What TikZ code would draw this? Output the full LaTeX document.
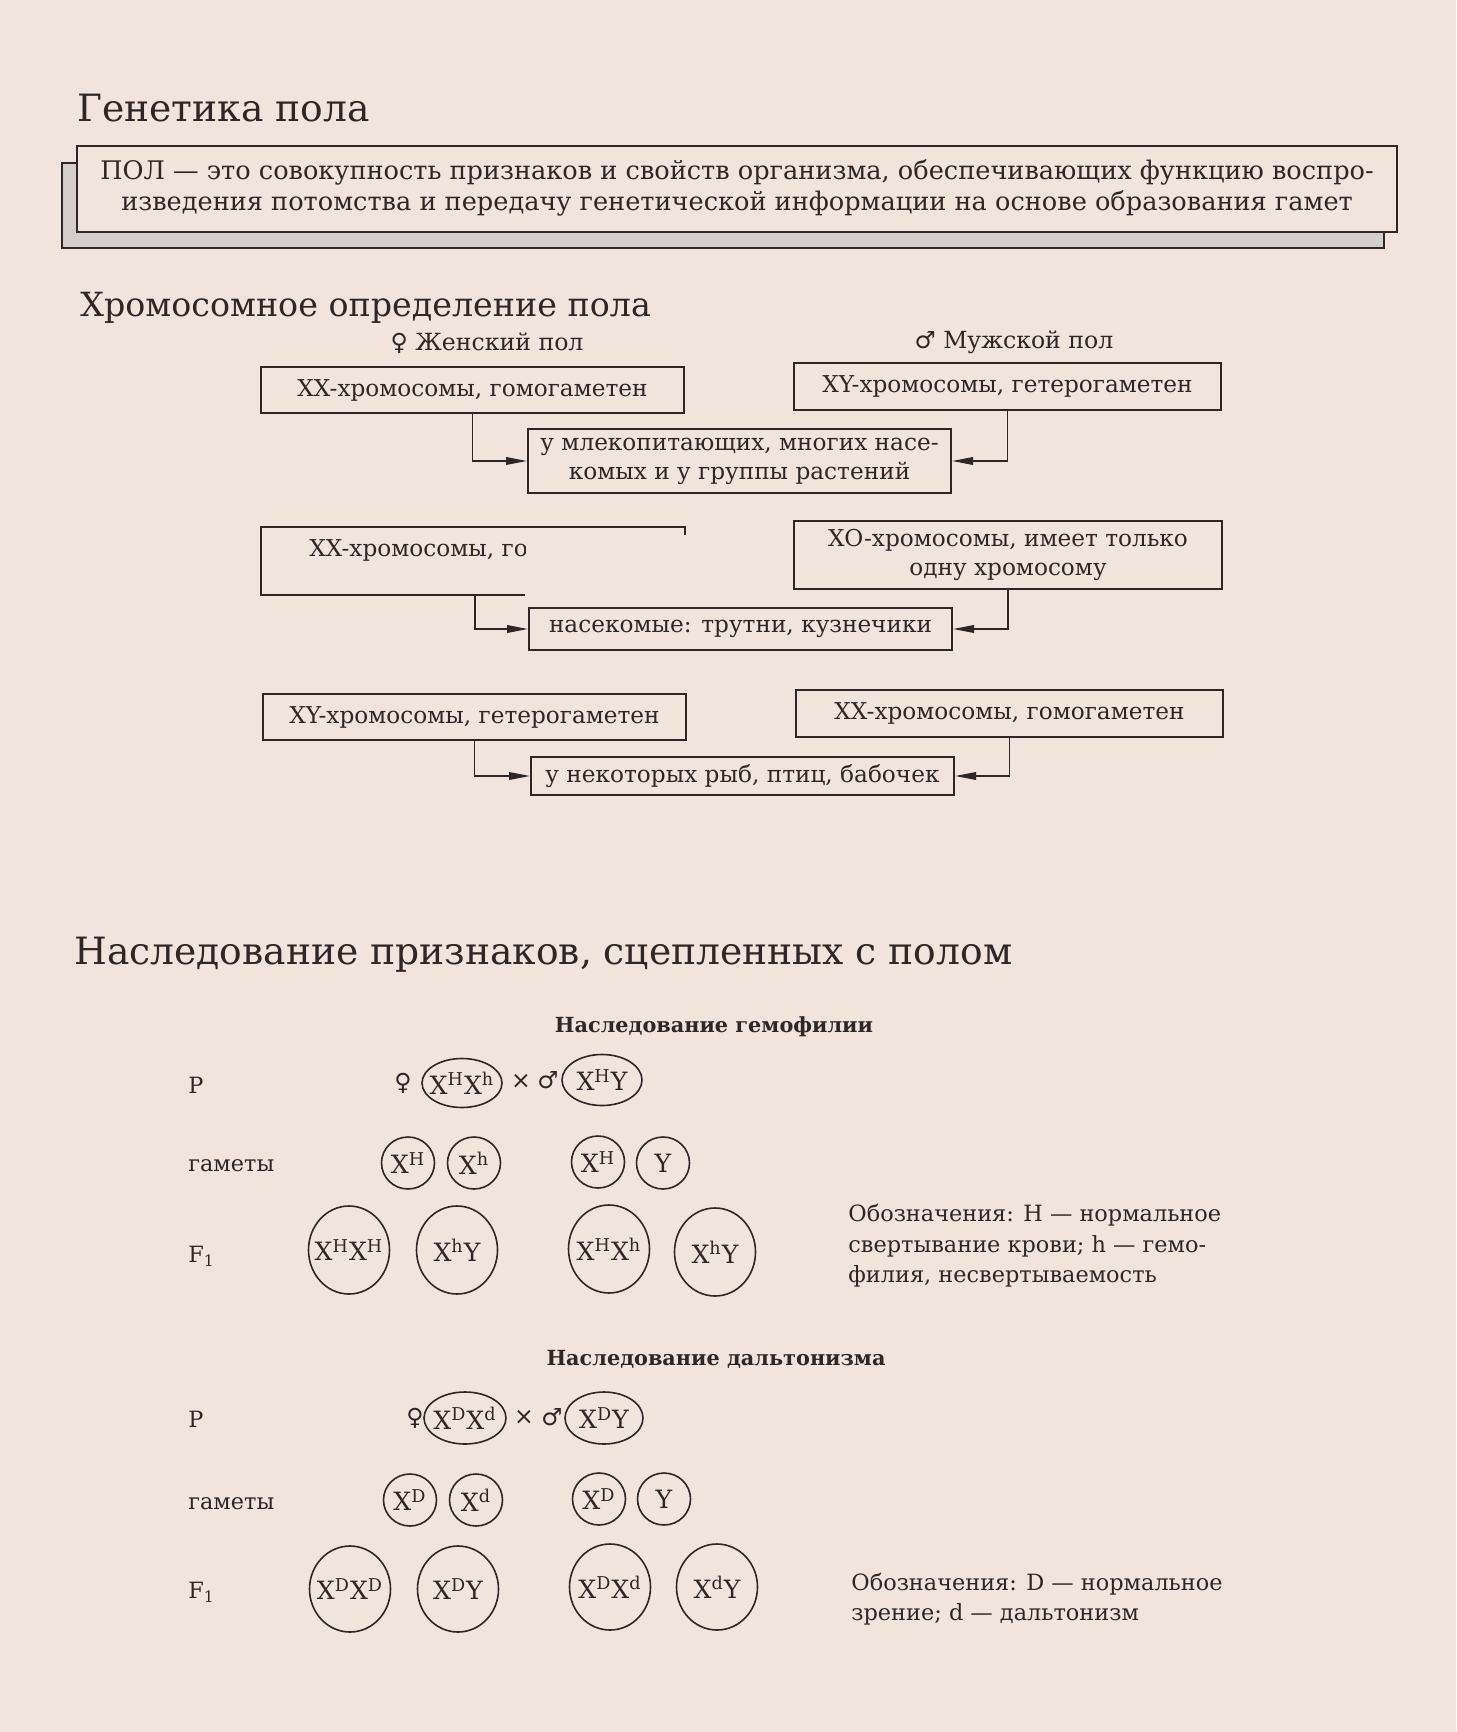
\documentclass[tikz,border=0pt]{standalone}
\usepackage{fontspec}
\setmainfont{DejaVu Serif}
\newfontfamily\symfont{DejaVu Sans}
\usetikzlibrary{arrows.meta,shapes.geometric}
\definecolor{paper}{RGB}{240,228,221}
\definecolor{ink}{RGB}{46,39,37}
\definecolor{shade}{RGB}{212,206,203}
\newcommand\su[1]{\textsuperscript{#1}}
\newcommand\fTitleA{\fontsize{18.8}{22}\selectfont}
\newcommand\fTitleB{\fontsize{16.65}{21}\selectfont}
\newcommand\fTitleC{\fontsize{18.8}{22}\selectfont}
\newcommand\fDef{\fontsize{12.8}{15}\selectfont}
\newcommand\fBx{\fontsize{11.6}{14.5}\selectfont}
\newcommand\fSex{\fontsize{11.8}{14}\selectfont}
\newcommand\fSub{\bfseries\fontsize{10.4}{13}\selectfont}
\newcommand\fGen{\fontsize{11.2}{14}\selectfont}
\newcommand\fGeno{\fontsize{12.6}{15}\selectfont}
\tikzset{
  txt/.style={inner sep=0pt, text=ink},
  boxn/.style={draw=ink, line width=1pt, inner sep=0pt, text=ink, font=\fBx, align=center},
  conn/.style={draw=ink, line width=0.8pt, -{Triangle[length=10.5pt,width=3.8pt]}},
  gt/.style={txt, font=\fGeno},
  ring/.style={draw=ink, line width=0.8pt},
  lab/.style={txt, font=\fGen, anchor=base west},
}
% genotype: name, position, x radius, y radius, text
\newcommand\genotype[5]{%
  \node[gt] (#1) at (#2) {#5};
  \draw[ring] (#1.center) ellipse [x radius=#3, y radius=#4];}
\begin{document}
\begin{tikzpicture}[x=0.5pt,y=-0.5pt]
\path[use as bounding box, fill=paper] (0,0) rectangle (1456,1732);

% ---------- Title 1 and definition
\node[txt, font=\fTitleA, anchor=base west] (t1) at (77,122) {Генетика пола};
\draw[ink, line width=0.8pt, fill=shade] (62,163) rectangle (1384,248);
\draw[ink, line width=1.3pt, fill=paper] (77,146) rectangle (1397,232);
\node[txt, font=\fDef, anchor=base] (def1) at (737,180) {ПОЛ — это совокупность признаков и свойств организма, обеспечивающих функцию воспро-};
\node[txt, font=\fDef, anchor=base] (def2) at (737,211) {изведения потомства и передачу генетической информации на основе образования гамет};

% ---------- Title 2
\node[txt, font=\fTitleB, anchor=base west] (t2) at (80,317) {Хромосомное определение пола};
\node[txt, font=\fSex, anchor=base] (fem) at (487,351) {{\symfont ♀} Женский пол};
\node[txt, font=\fSex, anchor=base] (mal) at (1014,349) {{\symfont ♂} Мужской пол};

% row 1
\node[boxn, minimum width=211.5pt, minimum height=23pt] (A1) at (472.5,390) {XX-хромосомы, гомогаметен};
\node[boxn, minimum width=213.5pt, minimum height=23.5pt] (B1) at (1007.5,386.5) {XY-хромосомы, гетерогаметен};
\node[boxn, minimum width=211.5pt, minimum height=32pt] (C1) at (739.5,461) {у млекопитающих, многих насе-\\комых и у группы растений};
\draw[conn] (A1.south) |- (C1.west);
\draw[conn] (B1.south) |- (C1.east);

% row 2
\draw[ink, line width=1pt] (685,535) -- (685,527) -- (261,527) -- (261,595) -- (525,595);
\begin{scope}
\clip (250,500) rectangle (525,600);
\node[txt, font=\fBx, anchor=base west] (A2) at (309,557) {XX-хромосомы, го};
\end{scope}
\coordinate (A2s) at (475,595);
\node[boxn, minimum width=214pt, minimum height=34pt] (B2) at (1008,555) {XO-хромосомы, имеет только\\одну хромосому};
\node[boxn, minimum width=211.5pt, minimum height=21pt] (C2) at (740.5,629) {насекомые: трутни, кузнечики};
\draw[conn] (A2s) |- (C2.west);
\draw[conn] (B2.south) |- (C2.east);

% row 3
\node[boxn, minimum width=211.5pt, minimum height=23pt] (A3) at (474.5,717) {XY-хромосомы, гетерогаметен};
\node[boxn, minimum width=213.5pt, minimum height=23.5pt] (B3) at (1009.5,713.5) {XX-хромосомы, гомогаметен};
\node[boxn, minimum width=211.5pt, minimum height=19pt] (C3) at (742.5,776) {у некоторых рыб, птиц, бабочек};
\draw[conn] (A3.south) |- (C3.west);
\draw[conn] (B3.south) |- (C3.east);

% ---------- Title 3
\node[txt, font=\fTitleC, anchor=base west] (t3) at (74,964) {Наследование признаков, сцепленных с полом};

% hemophilia
\node[txt, font=\fSub, anchor=base] (s1) at (714,1032) {Наследование гемофилии};
\node[lab] (P1) at (188,1093) {P};
\node[lab] (G1) at (188,1171) {гаметы};
\node[lab] (F1) at (188,1262) {F\textsubscript{1}};
\node[txt, font=\fSex] (pf1) at (403,1083) {\symfont ♀};
\genotype{pa1}{462,1083}{20pt}{12.25pt}{X\su{H}X\su{h}}
\node[txt, font=\fSex] (x1) at (521,1081) {\symfont ×};
\node[txt, font=\fSex] (pm1) at (548,1080) {\symfont ♂};
\genotype{pb1}{602,1080}{20pt}{12.75pt}{X\su{H}Y}
\genotype{g11}{408,1163}{13.25pt}{13pt}{X\su{H}}
\genotype{g12}{474,1163}{13.25pt}{13pt}{X\su{h}}
\genotype{g13}{598,1162}{13.25pt}{13pt}{X\su{H}}
\genotype{g14}{663,1163}{13.25pt}{13pt}{Y}
\genotype{f11}{349,1250}{20.25pt}{22pt}{X\su{H}X\su{H}}
\genotype{f12}{457,1250}{20.25pt}{22pt}{X\su{h}Y}
\genotype{f13}{609,1249}{20.25pt}{22pt}{X\su{H}X\su{h}}
\genotype{f14}{715,1252}{20.25pt}{22pt}{X\su{h}Y}
\node[lab] (L11) at (848,1221) {Обозначения: H — нормальное};
\node[lab] (L12) at (848,1252) {свертывание крови; h — гемо-};
\node[lab] (L13) at (848,1282) {филия, несвертываемость};

% colour blindness
\node[txt, font=\fSub, anchor=base] (s2) at (716,1365) {Наследование дальтонизма};
\node[lab] (P2) at (188,1427) {P};
\node[lab] (G2) at (188,1509) {гаметы};
\node[lab] (F2) at (188,1598) {F\textsubscript{1}};
\node[txt, font=\fSex] (pf2) at (415,1418) {\symfont ♀};
\genotype{pa2}{465,1418}{20.5pt}{13pt}{X\su{D}X\su{d}}
\node[txt, font=\fSex] (x2) at (524,1417) {\symfont ×};
\node[txt, font=\fSex] (pm2) at (552,1417) {\symfont ♂};
\genotype{pb2}{604,1418}{19.5pt}{13pt}{X\su{D}Y}
\genotype{g21}{410,1500}{13.25pt}{13pt}{X\su{D}}
\genotype{g22}{476,1500}{13.25pt}{13pt}{X\su{d}}
\genotype{g23}{599,1499}{13.25pt}{13pt}{X\su{D}}
\genotype{g24}{664,1499}{13.25pt}{13pt}{Y}
\genotype{f21}{350,1589}{20.25pt}{21.5pt}{X\su{D}X\su{D}}
\genotype{f22}{458,1589}{20.25pt}{21.5pt}{X\su{D}Y}
\genotype{f23}{610,1587}{20.25pt}{21.5pt}{X\su{D}X\su{d}}
\genotype{f24}{717,1587}{20.25pt}{21.5pt}{X\su{d}Y}
\node[lab] (L21) at (851,1590) {Обозначения: D — нормальное};
\node[lab] (L22) at (851,1620) {зрение; d — дальтонизм};
\end{tikzpicture}
\end{document}
